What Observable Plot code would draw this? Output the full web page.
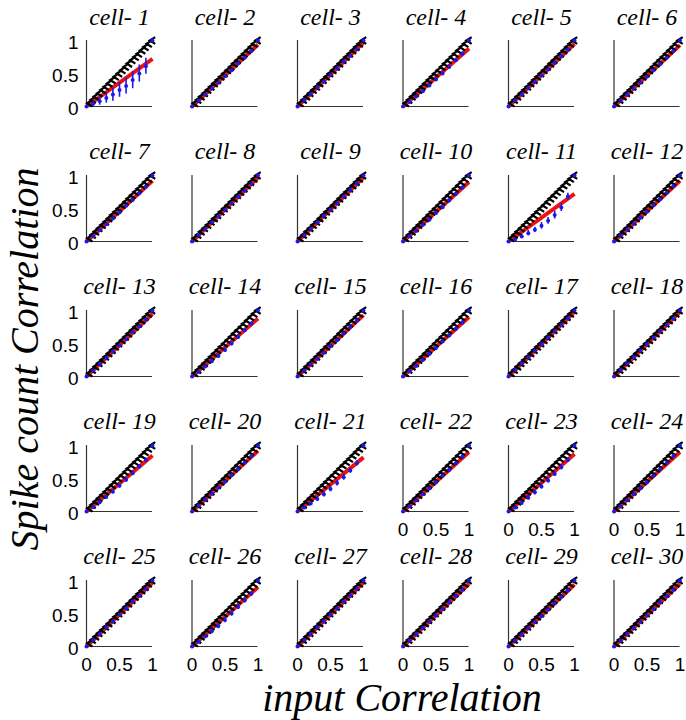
<!DOCTYPE html>
<html><head><meta charset="utf-8">
<script src="https://cdn.jsdelivr.net/npm/d3@7"></script>
<script src="https://cdn.jsdelivr.net/npm/@observablehq/plot@0.6"></script>
<style>
body{margin:0;background:#fff;}
#wrap{position:relative;width:686px;height:720px;overflow:hidden;}
.lab{position:absolute;font-family:'Liberation Serif';font-style:italic;white-space:nowrap;line-height:1;color:#000;}
</style></head><body>
<div id="wrap"></div>
<script>
// ---- data ----
const cellNumbers = [1,2,3,4,5,6,7,8,9,10,11,12,13,14,15,16,17,18,19,20,21,22,23,24,25,26,27,28,29,30];
const inputCorr = [0,0.1,0.2,0.3,0.4,0.5,0.6,0.7,0.8,0.9,1];
const identityX = [0.05,0.1,0.15,0.2,0.25,0.3,0.35,0.4,0.45,0.5,0.55,0.6,0.65,0.7,0.75,0.8,0.85,0.9,0.95,1];
const fitSlope = [0.72,0.94,0.97,0.88,0.95,0.93, 0.92,0.97,0.97,0.90,0.72,0.92, 0.95,0.88,0.93,0.90,0.98,0.98, 0.85,0.92,0.82,0.90,0.87,0.90, 0.97,0.90,0.97,0.95,0.94,0.95];
const spikeCorr = [
 [0,0.04,0.08,0.13,0.18,0.25,0.31,0.40,0.50,0.61,1],
 [0,0.09,0.18,0.27,0.36,0.46,0.55,0.65,0.74,0.84,1],
 [0,0.10,0.19,0.29,0.38,0.48,0.58,0.68,0.77,0.87,1],
 [0,0.07,0.15,0.23,0.32,0.41,0.50,0.60,0.70,0.80,1],
 [0,0.09,0.18,0.28,0.37,0.47,0.56,0.66,0.76,0.86,1],
 [0,0.09,0.18,0.27,0.36,0.45,0.55,0.64,0.74,0.84,1],
 [0,0.08,0.17,0.26,0.35,0.44,0.54,0.63,0.73,0.83,1],
 [0,0.10,0.19,0.29,0.38,0.48,0.58,0.68,0.77,0.87,1],
 [0,0.10,0.19,0.29,0.39,0.48,0.58,0.68,0.78,0.88,1],
 [0,0.08,0.16,0.25,0.33,0.43,0.52,0.62,0.72,0.82,1],
 [0,0.025,0.076,0.126,0.177,0.237,0.313,0.40,0.515,0.68,1],
 [0,0.09,0.18,0.27,0.36,0.45,0.55,0.64,0.74,0.84,1],
 [0,0.09,0.19,0.28,0.38,0.47,0.57,0.67,0.76,0.86,1],
 [0,0.07,0.15,0.23,0.31,0.40,0.50,0.60,0.70,0.80,1],
 [0,0.09,0.18,0.27,0.36,0.46,0.55,0.65,0.75,0.85,1],
 [0,0.08,0.16,0.25,0.34,0.43,0.53,0.62,0.72,0.82,1],
 [0,0.10,0.20,0.29,0.39,0.49,0.59,0.69,0.78,0.88,1],
 [0,0.10,0.20,0.29,0.39,0.49,0.59,0.69,0.78,0.88,1],
 [0,0.07,0.14,0.22,0.30,0.39,0.48,0.58,0.68,0.78,1],
 [0,0.09,0.18,0.27,0.36,0.45,0.55,0.64,0.74,0.84,1],
 [0,0.06,0.12,0.19,0.26,0.34,0.43,0.52,0.62,0.73,1],
 [0,0.08,0.17,0.26,0.35,0.44,0.54,0.63,0.73,0.83,1],
 [0,0.06,0.13,0.21,0.29,0.38,0.47,0.57,0.67,0.78,1],
 [0,0.08,0.17,0.26,0.35,0.44,0.54,0.64,0.74,0.84,1],
 [0,0.10,0.19,0.29,0.38,0.48,0.58,0.68,0.77,0.87,1],
 [0,0.07,0.15,0.23,0.31,0.40,0.50,0.60,0.70,0.80,1],
 [0,0.10,0.19,0.29,0.38,0.48,0.58,0.68,0.77,0.87,1],
 [0,0.09,0.19,0.28,0.38,0.47,0.57,0.67,0.76,0.86,1],
 [0,0.09,0.18,0.28,0.37,0.46,0.56,0.65,0.75,0.85,1],
 [0,0.09,0.19,0.28,0.38,0.47,0.57,0.67,0.76,0.86,1]
];
const spikeErr = [
 [0,0.04,0.06,0.08,0.10,0.11,0.12,0.13,0.13,0.12,0],
 [0,0.01,0.01,0.015,0.015,0.02,0.02,0.02,0.02,0.02,0],
 [0,0.01,0.01,0.01,0.01,0.01,0.01,0.01,0.01,0.01,0],
 [0,0.02,0.02,0.03,0.03,0.03,0.03,0.03,0.03,0.03,0],
 [0,0.01,0.01,0.01,0.01,0.01,0.01,0.01,0.01,0.01,0],
 [0,0.01,0.01,0.015,0.015,0.015,0.015,0.015,0.015,0.015,0],
 [0,0.01,0.02,0.02,0.02,0.02,0.02,0.02,0.02,0.02,0],
 [0,0.01,0.01,0.01,0.01,0.01,0.01,0.01,0.01,0.01,0],
 [0,0.01,0.01,0.01,0.01,0.01,0.01,0.01,0.01,0.01,0],
 [0,0.015,0.02,0.02,0.025,0.025,0.025,0.025,0.025,0.02,0],
 [0,0.02,0.03,0.04,0.04,0.05,0.05,0.06,0.06,0.05,0],
 [0,0.01,0.015,0.015,0.02,0.02,0.02,0.02,0.02,0.02,0],
 [0,0.01,0.01,0.015,0.015,0.015,0.015,0.015,0.015,0.015,0],
 [0,0.02,0.03,0.03,0.03,0.035,0.035,0.035,0.03,0.03,0],
 [0,0.01,0.015,0.015,0.02,0.02,0.02,0.02,0.02,0.02,0],
 [0,0.015,0.02,0.025,0.03,0.03,0.03,0.03,0.03,0.025,0],
 [0,0.01,0.01,0.01,0.01,0.01,0.01,0.01,0.01,0.01,0],
 [0,0.01,0.01,0.01,0.01,0.01,0.01,0.01,0.01,0.01,0],
 [0,0.02,0.025,0.03,0.03,0.035,0.035,0.035,0.03,0.03,0],
 [0,0.01,0.015,0.02,0.02,0.02,0.02,0.02,0.02,0.02,0],
 [0,0.02,0.03,0.035,0.04,0.04,0.045,0.045,0.04,0.04,0],
 [0,0.015,0.02,0.02,0.02,0.025,0.025,0.025,0.02,0.02,0],
 [0,0.02,0.03,0.035,0.04,0.04,0.04,0.04,0.04,0.035,0],
 [0,0.015,0.02,0.02,0.025,0.025,0.025,0.025,0.025,0.02,0],
 [0,0.01,0.01,0.01,0.01,0.01,0.01,0.01,0.01,0.01,0],
 [0,0.02,0.03,0.035,0.04,0.04,0.04,0.04,0.04,0.035,0],
 [0,0.01,0.01,0.01,0.01,0.01,0.01,0.01,0.01,0.01,0],
 [0,0.01,0.01,0.015,0.015,0.015,0.015,0.015,0.015,0.015,0],
 [0,0.01,0.015,0.015,0.02,0.02,0.02,0.02,0.02,0.02,0],
 [0,0.01,0.015,0.015,0.015,0.015,0.015,0.015,0.015,0.015,0]
];
const tickValues = [0, 0.5, 1];
const tickLabels = ["0", "0.5", "1"];
const xTickCells = [22,23,24,25,26,27,28,29,30];
const yTickCells = [1,7,13,19,25];
const xTitle = "input Correlation";
const yTitle = "Spike count Correlation";
const nCols = 6, nRows = 5;

// ---- tables ----
const panels = cellNumbers.map((c, i) => ({cell: c, col: i % nCols, row: Math.floor(i / nCols), title: "cell- " + c}));
const panelOf = c => panels[cellNumbers.indexOf(c)];
const fitTable = panels.flatMap((p, i) => [0, 1].map(x => ({...p, x, y: fitSlope[i] * x})));
const identityTable = panels.flatMap(p => identityX.map(x => ({...p, x, y: x})));
const spikeTable = panels.flatMap((p, i) => inputCorr.map((x, k) => ({...p, x, y: spikeCorr[i][k], lo: spikeCorr[i][k] - spikeErr[i][k], hi: spikeCorr[i][k] + spikeErr[i][k]})));
const xTickTable = xTickCells.flatMap(c => tickValues.map((v, k) => ({...panelOf(c), v, label: tickLabels[k]})));
const yTickTable = yTickCells.flatMap(c => tickValues.map((v, k) => ({...panelOf(c), v, label: tickLabels[k]})));

const chevron = {
  draw(context, size) {
    const s = Math.sqrt(size) / 2;
    context.moveTo(s * 0.8, -s);
    context.lineTo(-s * 0.8, 0);
    context.lineTo(s * 0.8, s);
  }
};

const serif = "Liberation Serif";
const sans = "Liberation Sans";
const axisColor = "#333";

const chart = Plot.plot({
  width: 686, height: 720,
  marginLeft: 86, marginRight: 6.5, marginTop: 40, marginBottom: 74,
  style: {fontFamily: sans},
  x: {domain: [0, 1], axis: null},
  y: {domain: [0, 1], axis: null},
  fx: {domain: d3.range(nCols), paddingInner: 0.3744, paddingOuter: 0, round: false, axis: null},
  fy: {domain: d3.range(nRows), paddingInner: 0.5111, paddingOuter: 0, round: false, axis: null},
  marks: [
    Plot.ruleX(panels, {fx: "col", fy: "row", x: () => 0, y1: () => 0, y2: () => 1, stroke: axisColor, strokeWidth: 1.2}),
    Plot.ruleY(panels, {fx: "col", fy: "row", y: () => 0, x1: () => 0, x2: () => 1, stroke: axisColor, strokeWidth: 1.2}),
    Plot.line(fitTable, {fx: "col", fy: "row", x: "x", y: "y", z: "cell", stroke: "#f01010", strokeWidth: 4, strokeLinecap: "butt"}),
    Plot.dot(identityTable, {fx: "col", fy: "row", x: "x", y: "y", symbol: chevron, r: 3.8, stroke: "#000", fill: "none", strokeWidth: 2.2}),
    Plot.ruleX(spikeTable, {fx: "col", fy: "row", x: "x", y1: "lo", y2: "hi", stroke: "#1a1aee", strokeWidth: 1.6}),
    Plot.dot(spikeTable, {fx: "col", fy: "row", x: "x", y: "y", r: 2, fill: "#1a1aee", stroke: "none"}),
    Plot.text(panels, {fx: "col", fy: "row", text: "title", frameAnchor: "top", dy: -16, lineAnchor: "bottom", fontFamily: serif, fontStyle: "italic", fontSize: 24, fill: "#000"}),
    Plot.text(xTickTable, {fx: "col", fy: "row", x: "v", y: () => 0, text: "label", dy: 18, lineAnchor: "middle", textAnchor: "middle", fontFamily: sans, fontSize: 19, fill: "#000"}),
    Plot.text(yTickTable, {fx: "col", fy: "row", x: () => 0, y: "v", text: "label", dx: -8, dy: 2, lineAnchor: "middle", textAnchor: "end", fontFamily: sans, fontSize: 19, fill: "#000"})
  ]
});

const wrap = document.getElementById("wrap");
wrap.appendChild(chart);
const yl = document.createElement("div");
yl.className = "lab";
yl.textContent = yTitle;
yl.style.cssText = "left:25px;top:359px;font-size:40px;transform:translate(-50%,-50%) rotate(-90deg);";
wrap.appendChild(yl);
const xl = document.createElement("div");
xl.className = "lab";
xl.textContent = xTitle;
xl.style.cssText = "left:402px;top:698px;font-size:40px;transform:translate(-50%,-50%);";
wrap.appendChild(xl);
</script>
</body></html>
